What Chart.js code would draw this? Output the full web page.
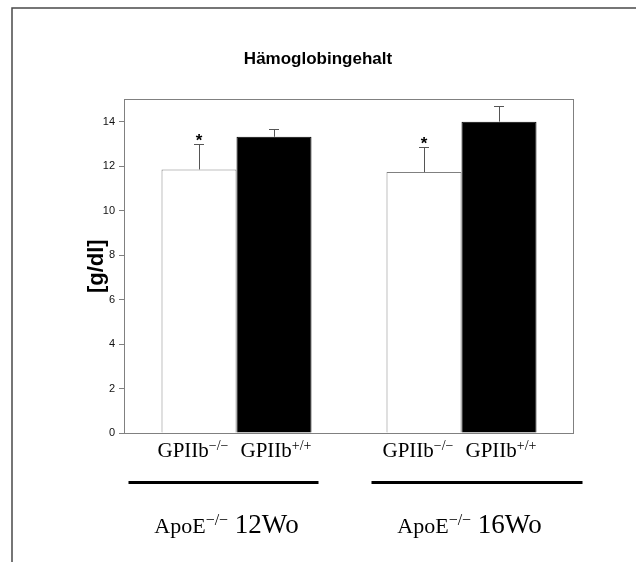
<!DOCTYPE html>
<html>
<head>
<meta charset="utf-8">
<script src="https://cdn.jsdelivr.net/npm/chart.js@4.4.1/dist/chart.umd.min.js"></script>
<style>
  body { margin: 0; background: #fff; }
  #wrap { width: 636px; height: 562px; position: relative; }
</style>
</head>
<body>
<div id="wrap"><canvas id="hbChart"></canvas></div>
<script>
// Hämoglobingehalt - ApoE-/- mice, 12 and 16 weeks
const categories = ['12Wo', '16Wo'];
const genotypes = ['\u2212/\u2212', '+/+'];
const knockout = [11.85, 11.73];      // GPIIb-/-
const knockoutErr = [1.14, 1.13];
const wildType = [13.32, 14.0];       // GPIIb+/+
const wildTypeErr = [0.37, 0.72];
const knockoutSig = ['*', '*'];
const wildTypeSig = ['', ''];
const yMax = 15;
const yStep = 2;

const errors = [knockoutErr, wildTypeErr];
const marks = [knockoutSig, wildTypeSig];

const serif = '"Liberation Serif", "Times New Roman", serif';
const sans = '"Liberation Sans", Arial, sans-serif';
const axisGray = '#808080';

// text with superscripts, parts = [text, size, rise]
function supText(ctx, parts, cx, baseline) {
  let total = 0;
  parts.forEach(p => { ctx.font = p[1] + 'px ' + serif; total += ctx.measureText(p[0]).width; });
  let x = cx - total / 2;
  parts.forEach(p => {
    ctx.font = p[1] + 'px ' + serif;
    ctx.fillText(p[0], x, baseline - p[2]);
    x += ctx.measureText(p[0]).width;
  });
}

const decor = {
  id: 'decor',
  beforeDraw(chart) {
    const ctx = chart.ctx;
    ctx.save();
    ctx.strokeStyle = '#4a4a4a';
    ctx.lineWidth = 1.5;
    ctx.beginPath();
    ctx.moveTo(12, chart.height);
    ctx.lineTo(12, 8);
    ctx.lineTo(chart.width, 8);
    ctx.stroke();
    ctx.restore();
  },
  afterDatasetsDraw(chart) {
    const ctx = chart.ctx;
    const y = chart.scales.y;
    const a = chart.chartArea;
    ctx.save();
    // error bars (upper only) and significance marks
    chart.data.datasets.forEach((ds, d) => {
      chart.getDatasetMeta(d).data.forEach((bar, i) => {
        const top = y.getPixelForValue(ds.data[i] + errors[d][i]);
        ctx.strokeStyle = '#555';
        ctx.lineWidth = 1;
        ctx.beginPath();
        ctx.moveTo(Math.round(bar.x) + 0.5, bar.y);
        ctx.lineTo(Math.round(bar.x) + 0.5, Math.round(top) + 0.5);
        ctx.moveTo(bar.x - 5, Math.round(top) + 0.5);
        ctx.lineTo(bar.x + 5, Math.round(top) + 0.5);
        ctx.stroke();
        if (marks[d][i]) {
          ctx.fillStyle = '#000';
          ctx.font = 'bold 17px ' + sans;
          ctx.textAlign = 'center';
          ctx.textBaseline = 'alphabetic';
          ctx.fillText(marks[d][i], bar.x, top + 2);
        }
      });
    });
    // plot box
    ctx.strokeStyle = axisGray;
    ctx.lineWidth = 1;
    ctx.strokeRect(Math.round(a.left) + 0.5, Math.round(a.top) + 0.5,
                   Math.round(a.width) - 1, Math.round(a.height));
    ctx.restore();
  },
  afterDraw(chart) {
    const ctx = chart.ctx;
    const x = chart.scales.x;
    const lineSpan = [[-108, 82], [-90, 121]];
    const labelShift = [-10, 8];
    const subShift = [-6, 2];
    ctx.save();
    ctx.fillStyle = '#000';
    ctx.textAlign = 'left';
    ctx.textBaseline = 'alphabetic';
    chart.data.datasets.forEach((ds, d) => {
      chart.getDatasetMeta(d).data.forEach(bar => {
        supText(ctx, [['GPIIb', 21, 0], [genotypes[d], 14, 7]], bar.x + subShift[d], 457);
      });
    });
    categories.forEach((c, i) => {
      const cx = x.getPixelForValue(i);
      ctx.fillRect(cx + lineSpan[i][0], 481, lineSpan[i][1] - lineSpan[i][0], 3);
      supText(ctx, [['ApoE', 22, 0], ['\u2212/\u2212', 16, 8], [' ' + c, 27, 0]], cx + labelShift[i], 533);
    });
    ctx.restore();
  }
};

new Chart(document.getElementById('hbChart'), {
  type: 'bar',
  data: {
    labels: categories,
    datasets: [{
      label: 'GPIIb-/-',
      data: knockout,
      backgroundColor: '#fff',
      borderColor: axisGray,
      borderWidth: 1
    }, {
      label: 'GPIIb+/+',
      data: wildType,
      backgroundColor: '#000',
      borderColor: '#000',
      borderWidth: 1
    }]
  },
  options: {
    responsive: true,
    maintainAspectRatio: false,
    animation: false,
    datasets: { bar: { categoryPercentage: 2 / 3, barPercentage: 1 } },
    plugins: {
      legend: { display: false },
      tooltip: { enabled: false },
      title: {
        display: true,
        text: 'Hämoglobingehalt',
        color: '#000',
        font: { family: sans, size: 17, weight: 'bold' },
        padding: { top: 49, bottom: 30 }
      }
    },
    scales: {
      x: {
        grid: { display: false },
        border: { display: false },
        ticks: { display: false },
        afterFit(scale) { scale.height = 129; }
      },
      y: {
        min: 0,
        max: yMax,
        grid: { drawOnChartArea: false, color: axisGray, tickLength: 5 },
        border: { color: axisGray },
        ticks: {
          stepSize: yStep,
          includeBounds: false,
          padding: 4,
          color: '#111',
          font: { family: sans, size: 11 }
        },
        title: {
          display: true,
          text: '[g/dl]',
          color: '#000',
          font: { family: sans, size: 22, weight: 'bold' },
          padding: { top: 84, bottom: 0 }
        },
        afterFit(scale) { scale.width = 124; }
      },
      // empty right-hand gutter so the title stays centred on the whole figure
      gutter: {
        position: 'right',
        grid: { display: false },
        border: { display: false },
        ticks: { display: false },
        afterFit(scale) { scale.width = 62; }
      }
    }
  },
  plugins: [decor]
});
</script>
</body>
</html>
